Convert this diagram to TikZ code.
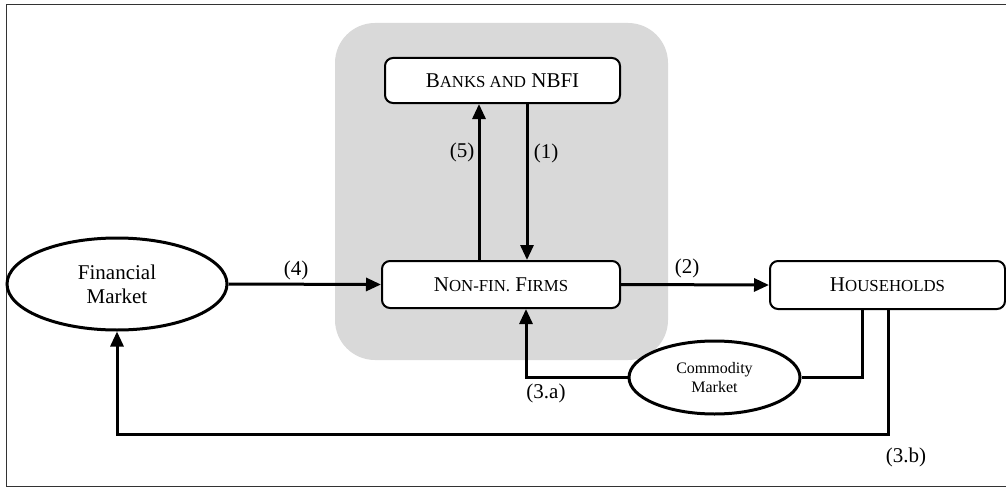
\documentclass[tikz,border=0pt]{standalone}
\usepackage{fontspec}
\setmainfont{Liberation Serif}
\usetikzlibrary{arrows.meta,shapes.geometric}
\newcommand\smc[1]{{\fontsize{16.8}{19}\selectfont #1}}
\begin{document}
\begin{tikzpicture}[x=1pt,y=-1pt,
  every node/.style={font=\fontsize{21}{24}\selectfont},
  box/.style={draw, line width=2pt, rounded corners=8pt, fill=white, inner sep=0pt},
  mkt/.style={draw, ellipse, line width=3pt, fill=white, inner sep=0pt, align=center},
  arr/.style={line width=3pt, -{Triangle[length=15pt,width=13pt]}},
  lnk/.style={line width=3pt},
  lbl/.style={inner sep=0pt}]
\useasboundingbox (0,0) rectangle (1006,487);
\draw[line width=1pt, black!80] (6,5) rectangle (1020,486);
\fill[black!15, rounded corners=40pt] (335,23) rectangle (668,360);
\node[box, minimum width=235pt, minimum height=45pt] (banks) at (502.5,80.5) {B\smc{ANKS AND} NBFI};
\node[box, minimum width=238pt, minimum height=47pt] (firms) at (501,284.5) {N\smc{ON-FIN.} F\smc{IRMS}};
\node[box, minimum width=235pt, minimum height=48pt] (hh) at (887.5,285) {H\smc{OUSEHOLDS}};
\node[mkt, minimum width=220pt, minimum height=92pt] (fm) at (117,284) {Financial\\Market};
\node[mkt, minimum width=171pt, minimum height=73pt, font=\fontsize{16}{19}\selectfont] (cm) at (714.5,377.5) {Commodity\\Market};
\coordinate (x5) at (479,0);
\coordinate (x1) at (527,0);
\coordinate (x3a) at (862,0);
\coordinate (x3ab) at (526,0);
\coordinate (x3b) at (888,0);
\coordinate (y3b) at (0,434);
\draw[arr] (fm.east) -- (firms.west);
\draw[arr] (firms.east) -- (hh.west);
\draw[arr] (firms.north -| x5) -- (banks.south -| x5);
\draw[arr] (banks.south -| x1) -- (firms.north -| x1);
\draw[lnk] (hh.south -| x3a) |- (cm.east);
\draw[arr] (cm.west) -| (firms.south -| x3ab);
\draw[arr] (hh.south -| x3b) |- (y3b -| fm.south) -- (fm.south);
\node[lbl] (l4) at (296,270) {(4)};
\node[lbl] (l2) at (687,268) {(2)};
\node[lbl] (l5) at (462,152) {(5)};
\node[lbl] (l1) at (546,153) {(1)};
\node[lbl] (l3a) at (546,393) {(3.a)};
\node[lbl] (l3b) at (906,457) {(3.b)};
\end{tikzpicture}
\end{document}
